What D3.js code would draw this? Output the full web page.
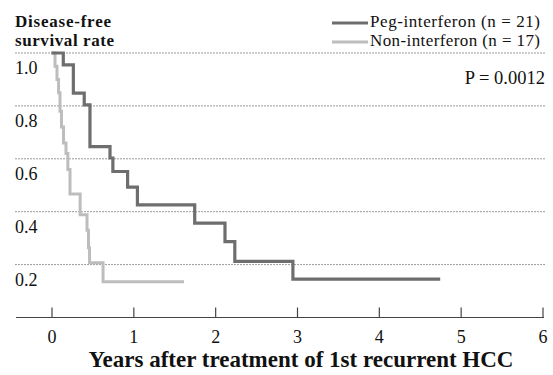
<!DOCTYPE html>
<html>
<head>
<meta charset="utf-8">
<script src="https://d3js.org/d3.v7.min.js"></script>
<style>
  body { margin: 0; background: #fff; }
  text { font-family: "Liberation Serif", "Times New Roman", serif; fill: #111; }
</style>
</head>
<body>
<svg id="chart" width="553" height="375"></svg>
<script>
// Kaplan-Meier steps (time in years, survival rate)
const pegTimes = [0, 0.144, 0.267, 0.40, 0.47, 0.715, 0.75, 0.93, 1.05, 1.75, 2.12, 2.24, 2.95];
const pegSurv  = [1.0, 0.955, 0.848, 0.804, 0.646, 0.603, 0.552, 0.493, 0.426, 0.357, 0.287, 0.212, 0.145];
const pegEnd = 4.75;

const nonTimes = [0, 0.043, 0.067, 0.086, 0.104, 0.122, 0.147, 0.177, 0.20, 0.226, 0.35, 0.434, 0.452, 0.465, 0.63];
const nonSurv  = [1.0, 0.95, 0.90, 0.85, 0.78, 0.72, 0.66, 0.62, 0.56, 0.467, 0.388, 0.33, 0.264, 0.207, 0.135];
const nonEnd = 1.62;

const xTicks = [0, 1, 2, 3, 4, 5, 6];
const yTicks = [0.2, 0.4, 0.6, 0.8, 1.0];
const legendLabels = ["Peg-interferon (n = 21)", "Non-interferon (n = 17)"];

let svg = d3.select("svg#chart");

const x = d3.scaleLinear().domain([0, 6]).range([51.5, 542.5]);
const y = d3.scaleLinear().domain([0, 1]).range([317.5, 53]);

// gridlines
svg.append("g").selectAll("line.grid").data(yTicks).join("line")
  .attr("class", "grid")
  .attr("x1", 15).attr("x2", 545)
  .attr("y1", d => y(d)).attr("y2", d => y(d))
  .attr("stroke", "#9a9a9a").attr("stroke-width", 1)
  .attr("stroke-dasharray", "2,1");

// y labels sit below each gridline
svg.append("g").selectAll("text.ylab").data(yTicks).join("text")
  .attr("class", "ylab")
  .attr("x", 15).attr("y", d => y(d) + 21)
  .style("font-size", "18px")
  .text(d => d.toFixed(1));

// x axis
let bottomAxis = d3.axisBottom(x).tickValues(xTicks).tickFormat(d3.format("d"))
  .tickSizeInner(-10).tickSizeOuter(0).tickPadding(13);
let axisG = svg.append("g").attr("transform", "translate(0,317.5)").call(bottomAxis);
axisG.select(".domain").remove();
axisG.append("line").attr("x1", 16).attr("x2", 544).attr("y1", 0).attr("y2", 0)
  .attr("stroke", "#444").attr("stroke-width", 1.2);
axisG.selectAll(".tick line").attr("stroke", "#444").attr("stroke-width", 1.2);
axisG.selectAll(".tick text")
  .style("font-family", "'Liberation Serif', serif").style("font-size", "18px").attr("fill", "#111")
  .attr("dy", "0.71em");

// curves
function stepData(times, surv, end) {
  let pts = times.map((t, i) => [t, surv[i]]);
  pts.push([end, surv[surv.length - 1]]);
  return pts;
}
const line = d3.line().x(d => x(d[0])).y(d => y(d[1])).curve(d3.curveStepAfter);

svg.append("path").datum(stepData(nonTimes, nonSurv, nonEnd))
  .attr("d", line).attr("fill", "none")
  .attr("stroke", "#bdbdbd").attr("stroke-width", 3);

svg.append("path").datum(stepData(pegTimes, pegSurv, pegEnd))
  .attr("d", line).attr("fill", "none")
  .attr("stroke", "#6e6e6e").attr("stroke-width", 3.2);

// legend
const legendColors = ["#6e6e6e", "#bdbdbd"];
legendLabels.forEach((lab, i) => {
  let ly = 23 + i * 19;
  svg.append("line").attr("x1", 332).attr("x2", 368).attr("y1", ly).attr("y2", ly)
    .attr("stroke", legendColors[i]).attr("stroke-width", 3);
  svg.append("text").attr("x", 370).attr("y", ly + 4)
    .style("font-size", "17px")
    .attr("textLength", 170).attr("lengthAdjust", "spacing")
    .text(lab);
});

// p value
svg.append("text").attr("x", 545).attr("y", 84).attr("text-anchor", "end")
  .style("font-size", "18.5px").text("P = 0.0012");

// y title
svg.append("text").attr("x", 15).attr("y", 27)
  .style("font-size", "17px").style("font-weight", "bold")
  .attr("textLength", 96).attr("lengthAdjust", "spacing").text("Disease-free");
svg.append("text").attr("x", 15).attr("y", 46)
  .style("font-size", "17px").style("font-weight", "bold")
  .attr("textLength", 99).attr("lengthAdjust", "spacing").text("survival rate");

// x title
svg.append("text").attr("x", 301).attr("y", 367).attr("text-anchor", "middle")
  .style("font-size", "23px").style("font-weight", "bold")
  .text("Years after treatment of 1st recurrent HCC");
</script>
</body>
</html>
